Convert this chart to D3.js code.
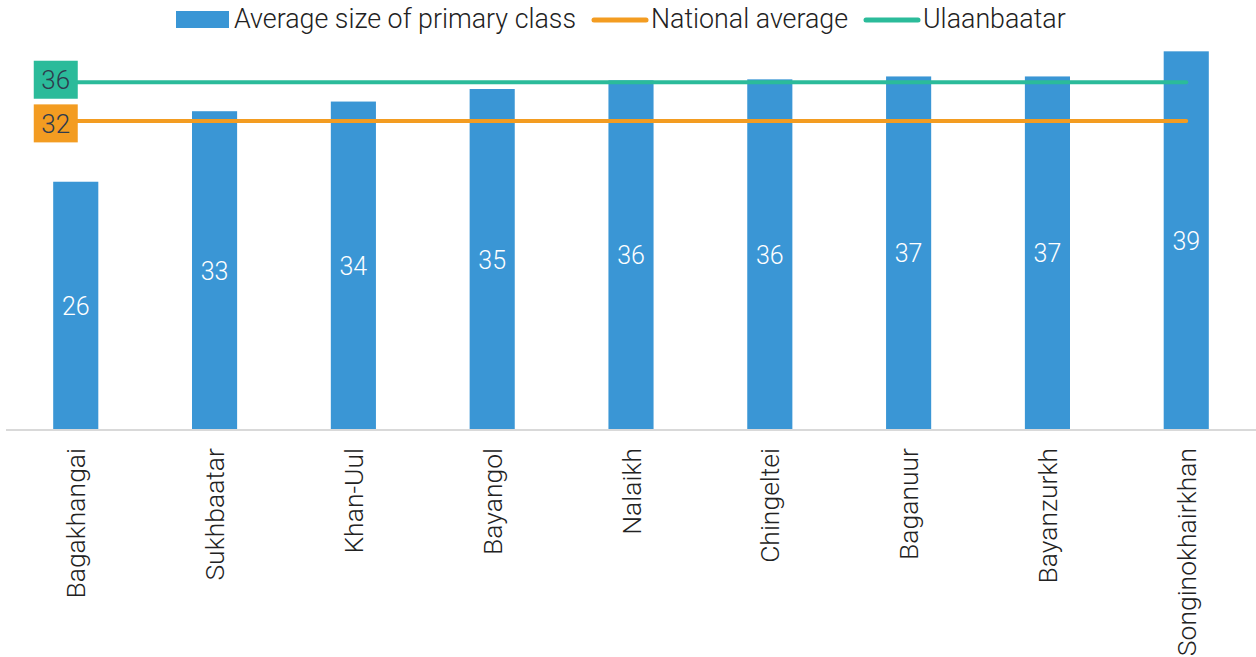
<!DOCTYPE html>
<html>
<head>
<meta charset="utf-8">
<script src="https://cdn.jsdelivr.net/npm/d3@7"></script>
<style>
  body { margin: 0; background: #fff; }
  svg text { font-family: Roboto, "Noto Sans", sans-serif; font-weight: 300; }
</style>
</head>
<body>
<svg id="chart" width="1256" height="657"></svg>
<script>
// data
var districts = ["Bagakhangai","Sukhbaatar","Khan-Uul","Bayangol","Nalaikh","Chingeltei","Baganuur","Bayanzurkh","Songinokhairkhan"];
var classSize = [25.7, 33.0, 34.0, 35.3, 36.2, 36.3, 36.6, 36.6, 39.2];
var nationalAvg = 32;
var ubAvg = 36;
var legendNames = ["Average size of primary class","National average","Ulaanbaatar"];

var blue = "#3a96d5", orange = "#f39c21", green = "#2bbb9a";

var svg = d3.select("#chart");

var x = d3.scaleBand().domain(districts).range([6, 1256]).paddingInner(0.675).paddingOuter(0.34);
var y = d3.scaleLinear().domain([0, 40]).range([430, 43.6]);

// bars
svg.selectAll("rect.bar")
  .data(districts)
  .enter().append("rect")
  .attr("class","bar")
  .attr("x", function(d){ return x(d); })
  .attr("y", function(d,i){ return y(classSize[i]); })
  .attr("width", x.bandwidth())
  .attr("height", function(d,i){ return y(0) - y(classSize[i]); })
  .attr("fill", blue);

// value labels inside bars
svg.selectAll("text.val")
  .data(districts)
  .enter().append("text")
  .attr("class","val")
  .attr("x", function(d){ return x(d) + x.bandwidth()/2; })
  .attr("y", function(d,i){ return (y(classSize[i]) + y(0))/2; })
  .attr("dy","0.36em")
  .attr("text-anchor","middle")
  .attr("fill","#fff")
  .style("font-size","25px")
  .text(function(d,i){ return Math.round(classSize[i]); });

// x axis
var xAxis = svg.append("g")
  .attr("transform","translate(0," + y(0) + ")")
  .call(d3.axisBottom(x).tickSize(0).tickPadding(0));
xAxis.select(".domain").attr("stroke","#d9d9d9").attr("stroke-width",2).attr("d","M6,0H1256");
xAxis.selectAll("text")
  .attr("transform","rotate(-90)")
  .attr("text-anchor","end")
  .attr("x", -18)
  .attr("y", 0)
  .attr("dy","0.36em")
  .attr("fill","#222")
  .style("font-size","26.5px")
  .style("font-family","Roboto, sans-serif")
  .style("font-weight","300");

// reference lines; shift = how far the label box sits off the line
function refLine(val, col, shift){
  var x0 = x(districts[0]) + x.bandwidth()/2;
  var x1 = x(districts[districts.length-1]) + x.bandwidth()/2;
  svg.append("line")
    .attr("x1", x0).attr("x2", x1)
    .attr("y1", y(val)).attr("y2", y(val))
    .attr("stroke", col).attr("stroke-width", 4).attr("stroke-linecap","round");
  var bw = 44, bh = 38;
  var cy = y(val) + shift;
  svg.append("rect")
    .attr("x", x0 - 42).attr("y", cy - bh/2)
    .attr("width", bw).attr("height", bh)
    .attr("fill", col);
  svg.append("text")
    .attr("x", x0 - 42 + bw/2).attr("y", cy)
    .attr("dy","0.36em")
    .attr("text-anchor","middle")
    .attr("fill","#2e3b4e")
    .style("font-size","26px")
    .text(val);
}
refLine(nationalAvg, orange, 2.5);
refLine(ubAvg, green, -2.5);

// legend
var lg = svg.append("g");
lg.append("rect").attr("x",176).attr("y",11).attr("width",53).attr("height",17).attr("fill",blue);
lg.append("text").attr("x",234).attr("y",28).attr("fill","#222").style("font-size","26.8px").text(legendNames[0]);
lg.append("line").attr("x1",594).attr("x2",646).attr("y1",20).attr("y2",20)
  .attr("stroke",orange).attr("stroke-width",5).attr("stroke-linecap","round");
lg.append("text").attr("x",651).attr("y",28).attr("fill","#222").style("font-size","26.8px").text(legendNames[1]);
lg.append("line").attr("x1",866).attr("x2",918).attr("y1",20).attr("y2",20)
  .attr("stroke",green).attr("stroke-width",5).attr("stroke-linecap","round");
lg.append("text").attr("x",923).attr("y",28).attr("fill","#222").style("font-size","26.8px").text(legendNames[2]);
</script>
</body>
</html>
